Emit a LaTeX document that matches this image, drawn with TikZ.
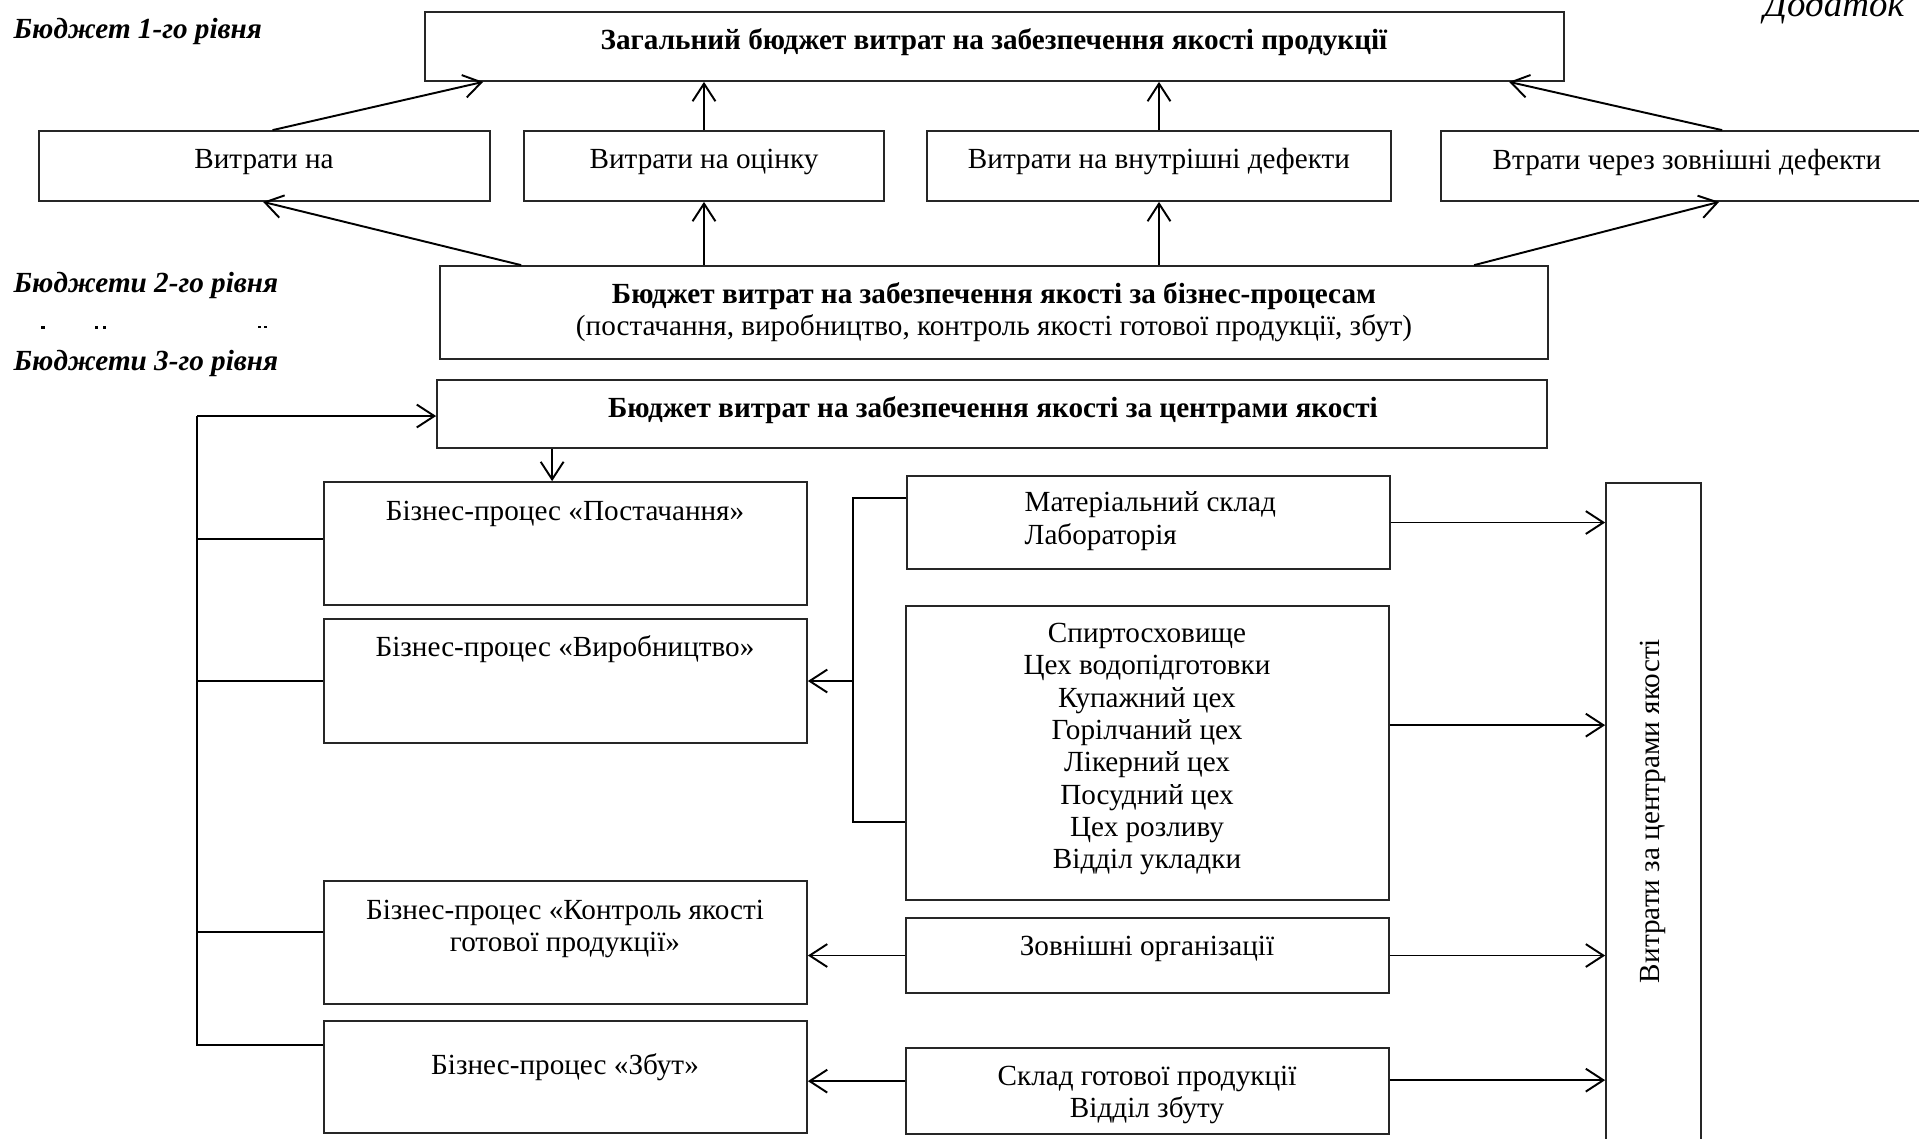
\documentclass[tikz,border=0pt]{standalone}
\usepackage{fontspec}
\setmainfont{Liberation Serif}
\usetikzlibrary{calc,fit,arrows.meta}
\newcommand\bodyf{\fontsize{8.3}{9.2}\selectfont}
\tikzset{
  box/.style={draw=black!85, line width=0.5pt, inner sep=0pt, rectangle},
  txt/.style={inner sep=0pt, font=\bodyf, align=center},
  conn/.style={line width=0.55pt},
  arr/.style={line width=0.55pt, -{Straight Barb[length=5pt,width=6.5pt]}},
  lvl/.style={inner sep=0pt, anchor=base west, font=\bodyf\bfseries\itshape},
  speck/.style={fill=black, draw=none},
}
\begin{document}
\begin{tikzpicture}[x=0.01cm, y=-0.01cm]
\useasboundingbox (0,0) rectangle (1919,1138);
\fill[white] (0,0) rectangle (1919,1138);

% level labels
\node[lvl] (l1) at (13,38) {Бюджет 1-го рівня};
\node[lvl] (l2) at (13,292) {Бюджети 2-го рівня};
\node[lvl] (l3) at (13,370) {Бюджети 3-го рівня};
\node[inner sep=0pt, anchor=base west, font=\fontsize{10.5}{12}\selectfont\itshape] (add) at (1763,16) {Додаток};
% clipped remnants of a hidden text line
\fill[speck] (41,326) rectangle (45,329);
\fill[speck] (95,326) rectangle (98,329);
\fill[speck] (103,326) rectangle (106,329);
\fill[speck] (258,326) rectangle (261,328);
\fill[speck] (264,326) rectangle (267,328);

% boxes
\node[box, fit={(425,12) (1564,81)}] (top) {};
\node[box, fit={(39,131) (490,201)}] (b1) {};
\node[box, fit={(524,131) (884,201)}] (b2) {};
\node[box, fit={(927,131) (1391,201)}] (b3) {};
\node[box, fit={(1441,131) (1933,201)}] (b4) {};
\node[box, fit={(440,266) (1548,359)}] (proc) {};
\node[box, fit={(437,380) (1547,448)}] (cen) {};
\node[box, fit={(324,482) (807,605)}] (bp1) {};
\node[box, fit={(324,619) (807,743)}] (bp2) {};
\node[box, fit={(324,881) (807,1004)}] (bp3) {};
\node[box, fit={(324,1021) (807,1133)}] (bp4) {};
\node[box, fit={(907,476) (1390,569)}] (c1) {};
\node[box, fit={(906,606) (1389,900)}] (c2) {};
\node[box, fit={(906,918) (1389,993)}] (c3) {};
\node[box, fit={(906,1048) (1389,1134)}] (c4) {};
\node[box, fit={(1606,483) (1701,1160)}] (vr) {};

% texts
\node[txt, font=\bodyf\bfseries] (ttop) at (994,42) {Загальний бюджет витрат на забезпечення якості продукції};
\node[txt] (tb1) at (264,162) {Витрати на};
\node[txt] (tb2) at (704,162) {Витрати на оцінку};
\node[txt] (tb3) at (1159,162) {Витрати на внутрішні дефекти};
\node[txt] (tb4) at (1687,162) {Втрати через зовнішні дефекти};
\node[txt] (tproc) at (994,312) {\textbf{Бюджет витрат на забезпечення якості за бізнес-процесам}\\(постачання, виробництво, контроль якості готової продукції, збут)};
\node[txt, font=\bodyf\bfseries] (tcen) at (993,410) {Бюджет витрат на забезпечення якості за центрами якості};
\node[txt] (tbp1) at (565,514) {Бізнес-процес «Постачання»};
\node[txt] (tbp2) at (565,649) {Бізнес-процес «Виробництво»};
\node[txt] (tbp3) at (565,929) {Бізнес-процес «Контроль якості\\готової продукції»};
\node[txt] (tbp4) at (565,1067) {Бізнес-процес «Збут»};
\node[txt, align=left, anchor=west] (tc1) at (1024,521) {Матеріальний склад\\Лабораторія};
\node[txt] (tc2) at (1147,749) {Спиртосховище\\Цех водопідготовки\\Купажний цех\\Горілчаний цех\\Лікерний цех\\Посудний цех\\Цех розливу\\Відділ укладки};
\node[txt] (tc3) at (1147,949) {Зовнішні організації};
\node[txt] (tc4) at (1147,1095) {Склад готової продукції\\Відділ збуту};
\node[txt, rotate=90] (tvr) at (1653,811) {Витрати за центрами якості};

% level 2 -> level 1
\draw[arr] ($(b1.north)+(8,0)$) -- ($(top.south west)+(59,0)$);
\draw[arr] (b2.north) -- (b2.north |- top.south);
\draw[arr] (b3.north) -- (b3.north |- top.south);
\draw[arr] ($(b4.north west)+(282,0)$) -- ($(top.south west)+(1085,0)$);

% business-process budget -> level 2
\draw[arr] ($(proc.north west)+(82,0)$) -- ($(b1.south west)+(225,0)$);
\draw[arr] (b2.south |- proc.north) -- (b2.south);
\draw[arr] (b3.south |- proc.north) -- (b3.south);
\draw[arr] ($(proc.north west)+(1035,0)$) -- ($(b4.south west)+(279,0)$);

% centres budget -> supply
\draw[arr] ($(cen.south west)+(116,0)$) -- ($(bp1.north west)+(229,0)$);

% left bracket
\coordinate (lx) at (197,416);
\coordinate (k1) at ($(bp1.north west)+(0,58)$);
\coordinate (k3) at ($(bp3.north west)+(0,52)$);
\coordinate (k4) at ($(bp4.north west)+(0,25)$);
\draw[conn] (lx) -- (k4 -| lx) -- (k4);
\draw[arr] (lx) -- (lx -| cen.west);
\draw[conn] (k1 -| lx) -- (k1);
\draw[conn] (bp2.west -| lx) -- (bp2.west);
\draw[conn] (k3 -| lx) -- (k3);

% middle bracket
\coordinate (mx) at (853,0);
\coordinate (m1) at ($(c1.north west)+(0,23)$);
\coordinate (m2) at ($(c2.north west)+(0,217)$);
\draw[conn] (m1) -- (m1 -| mx) -- (m2 -| mx) -- (m2);
\draw[arr] (bp2.east -| mx) -- (bp2.east);

% centres -> business processes
\draw[arr] (c3.west) -- (c3.west -| bp3.east);
\coordinate (s4) at ($(c4.north west)+(0,34)$);
\draw[arr] (s4) -- (s4 -| bp4.east);

% centres -> right box
\draw[arr] (c1.east) -- (c1.east -| vr.west);
\coordinate (r2) at ($(c2.north east)+(0,120)$);
\draw[arr] (r2) -- (r2 -| vr.west);
\draw[arr] (c3.east) -- (c3.east -| vr.west);
\coordinate (r4) at ($(c4.north east)+(0,33)$);
\draw[arr] (r4) -- (r4 -| vr.west);
\end{tikzpicture}
\end{document}
